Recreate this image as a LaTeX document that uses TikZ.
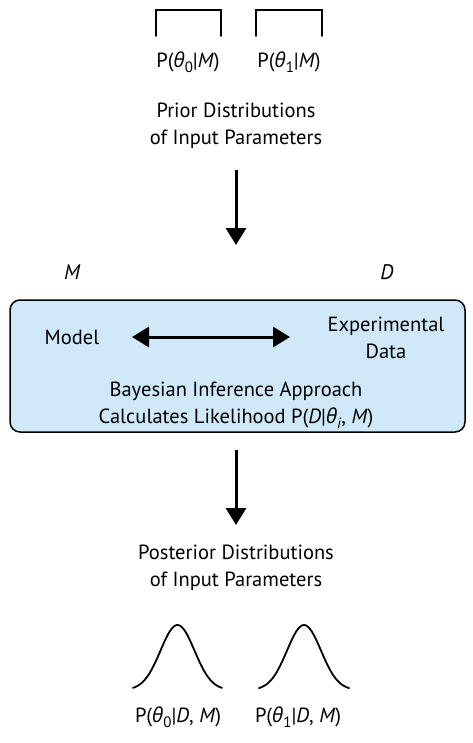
\documentclass[tikz,border=0pt]{standalone}
\usepackage{fontspec}
\setmainfont{PT Sans}
\newfontfamily\greekfont{Open Sans}
\usetikzlibrary{arrows.meta,positioning}
\definecolor{boxblue}{RGB}{207,233,249}
\newcommand{\thet}[1]{\textit{\greekfont θ}\raisebox{-0.5ex}{\fontsize{15}{15}\selectfont #1}}

\begin{document}
\begin{tikzpicture}[x=1pt,y=1pt,
  txt/.style={align=center, font=\fontsize{20.5}{27}\selectfont, inner sep=0pt},
  arrow/.style={-{Triangle[length=17pt,width=20pt]}, line width=3pt},
  dblarrow/.style={{Triangle[length=17pt,width=20pt]}-{Triangle[length=17pt,width=20pt]}, line width=3pt},
  curve/.style={line width=1.8pt, line cap=round}
]
\useasboundingbox (0,0) rectangle (472,-743);

% prior (flat) distributions
\draw[curve] (156,-36) -- (156,-10) -- (221,-10) -- (221,-36);
\draw[curve] (256,-36) -- (256,-10) -- (322,-10) -- (322,-36);
\node[txt] (p0) at (188,-62) {P(\thet{0}|\textit{M})};
\node[txt] (p1) at (289,-62) {P(\thet{1}|\textit{M})};
\node[txt] (prior) at (236,-126) {Prior Distributions\\of Input Parameters};

% model and data
\node[txt, font=\fontsize{21}{21}\selectfont\itshape] (m) at (72,-272) {M};
\node[txt, font=\fontsize{21}{21}\selectfont\itshape] (d) at (387,-272) {D};

\draw[line width=1.5pt, rounded corners=10pt, fill=boxblue] (10,-300) rectangle (465,-432);
\coordinate (boxtop) at (236,-300);
\coordinate (boxbot) at (236,-432);
\node[txt] (model) at (72,-337) {Model};
\node[txt] (data) at (386,-338) {Experimental\\Data};
\node[txt] (bayes) at (236,-405) {Bayesian Inference Approach\\Calculates Likelihood P(\textit{D}|\thet{\textit{i}}, \textit{M})};
\draw[dblarrow] (132,-337) -- (290,-337);

% posterior distributions
\node[txt] (post) at (236,-568) {Posterior Distributions\\of Input Parameters};
\draw[curve] plot[domain=133:222, samples=60] (\x, {-690+65*exp(-((\x-177.5)/17)^2/2)});
\draw[curve] plot[domain=259:349, samples=60] (\x, {-690+65*exp(-((\x-304)/17)^2/2)});
\node[txt] (q0) at (178,-717) {P(\thet{0}|\textit{D}, \textit{M})};
\node[txt] (q1) at (298,-717) {P(\thet{1}|\textit{D}, \textit{M})};

\coordinate (a1s) at (236,-170);
\coordinate (a1e) at (236,-245);
\coordinate (a2s) at (236,-450);
\coordinate (a2e) at (236,-525);
\draw[arrow] (a1s) -- (a1e);
\draw[arrow] (a2s) -- (a2e);
\end{tikzpicture}
\end{document}
